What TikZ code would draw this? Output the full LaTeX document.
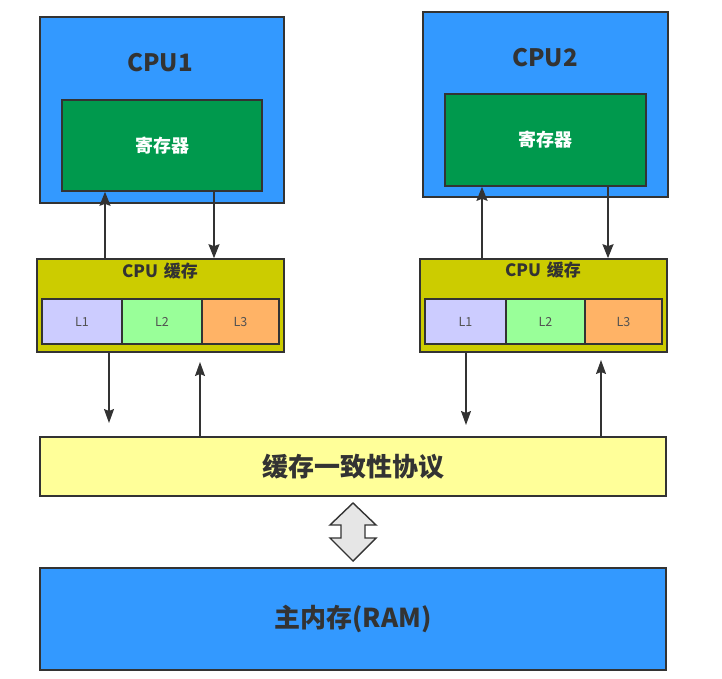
\documentclass[tikz,border=0pt]{standalone}
\usepackage{fontspec}
\setmainfont{Noto Sans CJK SC}
\usetikzlibrary{arrows.meta}
\definecolor{cpublue}{HTML}{3399FF}
\definecolor{reggreen}{HTML}{00994D}
\definecolor{cacheol}{HTML}{CCCC00}
\definecolor{lone}{HTML}{CCCCFF}
\definecolor{ltwo}{HTML}{99FF99}
\definecolor{lthree}{HTML}{FFB366}
\definecolor{ink}{HTML}{333333}
\definecolor{proto}{HTML}{FFFF99}
\definecolor{arrfill}{HTML}{E6E6E6}
\tikzset{
  box/.style={draw=ink, line width=1.6pt, rectangle, inner sep=0pt},
  lbox/.style={box, line width=1.3pt, minimum height=45pt, font=\fontsize{12.5}{14}\selectfont, text=ink!85},
  bigarrow/.style={draw=ink, line width=2pt, -{Stealth[length=14pt,width=11pt,inset=2pt]}},
  thinarrow/.style={draw=ink, line width=1.2pt, -{Stealth[length=14pt,width=10pt,inset=2pt]}},
}
\begin{document}
\begin{tikzpicture}[x=1pt,y=-1pt]
\useasboundingbox (0,0) rectangle (722,679);
% CPU1
\node[box, fill=cpublue, minimum width=244pt, minimum height=186pt] (cpu1) at (162,110) {};
\node[text=ink, font=\fontsize{24}{27}\selectfont\bfseries] (cpu1t) at (160,63) {CPU1};
\node[box, fill=reggreen, minimum width=200pt, minimum height=91pt, text=white, font=\fontsize{18}{21}\selectfont\bfseries] (reg1) at (162,145.5) {寄存器};
% CPU2
\node[box, fill=cpublue, minimum width=245pt, minimum height=185pt] (cpu2) at (545.5,104.5) {};
\node[text=ink, font=\fontsize{24}{27}\selectfont\bfseries] (cpu2t) at (545,58) {CPU2};
\node[box, fill=reggreen, minimum width=201pt, minimum height=92pt, text=white, font=\fontsize{18}{21}\selectfont\bfseries] (reg2) at (545.5,140) {寄存器};
% Cache1
\node[box, fill=cacheol, minimum width=247pt, minimum height=93pt] (cache1) at (160.5,305.5) {};
\node[text=ink, font=\fontsize{17}{20}\selectfont\bfseries] (cache1t) at (160,271) {CPU\hspace{0.35em}缓存};
\node[lbox, fill=lone, minimum width=80pt] (c1l1) at (82,321.5) {L1};
\node[lbox, fill=ltwo, minimum width=80pt] (c1l2) at (162,321.5) {L2};
\node[lbox, fill=lthree, minimum width=77pt] (c1l3) at (240.5,321.5) {L3};
% Cache2
\node[box, fill=cacheol, minimum width=247pt, minimum height=93pt] (cache2) at (543.5,305.5) {};
\node[text=ink, font=\fontsize{17}{20}\selectfont\bfseries] (cache2t) at (543,270) {CPU\hspace{0.35em}缓存};
\node[lbox, fill=lone, minimum width=81pt] (c2l1) at (465.5,321.5) {L1};
\node[lbox, fill=ltwo, minimum width=79pt] (c2l2) at (545.5,321.5) {L2};
\node[lbox, fill=lthree, minimum width=77pt] (c2l3) at (623.5,321.5) {L3};
% Protocol
\node[box, fill=proto, minimum width=626pt, minimum height=59pt, text=ink, font=\fontsize{26}{29}\selectfont\bfseries] (proto) at (353,466.5) {缓存一致性协议};
% RAM
\node[box, fill=cpublue, minimum width=626pt, minimum height=102pt, text=ink, font=\fontsize{26}{29}\selectfont\bfseries] (ram) at (353,619) {主内存(RAM)};
% arrow x positions
\coordinate (xa) at (105,0);
\coordinate (xb) at (214,0);
\coordinate (xc) at (482,0);
\coordinate (xd) at (608,0);
\coordinate (xe) at (109,0);
\coordinate (xf) at (200,0);
\coordinate (xg) at (466,0);
\coordinate (xh) at (601,0);
\coordinate (ye) at (0,423);
\coordinate (yf) at (0,362);
\coordinate (yg) at (0,425);
\coordinate (yh) at (0,360);
% CPU <-> cache arrows
\draw[bigarrow] (cache1.north -| xa) -- (reg1.south -| xa);
\draw[bigarrow] (reg1.south -| xb) -- (cache1.north -| xb);
\draw[bigarrow] (cache2.north -| xc) -- (reg2.south -| xc);
\draw[bigarrow] (reg2.south -| xd) -- (cache2.north -| xd);
% cache <-> protocol arrows
\draw[thinarrow] (cache1.south -| xe) -- (xe |- ye);
\draw[thinarrow] (proto.north -| xf) -- (xf |- yf);
\draw[thinarrow] (cache2.south -| xg) -- (xg |- yg);
\draw[thinarrow] (proto.north -| xh) -- (xh |- yh);
% double arrow
\draw[draw=ink, line width=1.4pt, fill=arrfill, line join=miter]
  (353,503) -- (376,525) -- (365,525) -- (365,538) -- (376,538) -- (353,561)
  -- (330,538) -- (341,538) -- (341,525) -- (330,525) -- cycle;
\end{tikzpicture}
\end{document}
